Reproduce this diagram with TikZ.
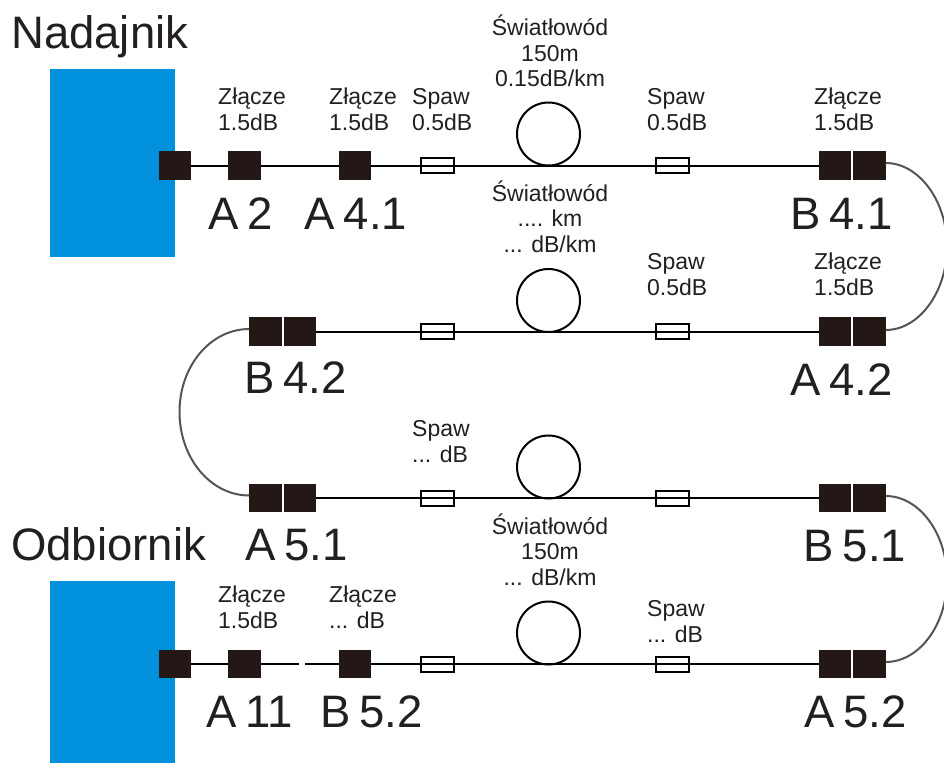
\documentclass[tikz,border=0pt]{standalone}
\usepackage{fontspec}
\setmainfont{Liberation Sans}
\newfontfamily\bigfam[WordSpace=0.68]{Liberation Sans}
\definecolor{txt}{HTML}{231F20}
\definecolor{blk}{HTML}{231815}
\definecolor{cbl}{HTML}{555555}
\definecolor{blu}{HTML}{0090DC}
\tikzset{
 x=1pt,y=-1pt,
 conn/.style={draw=none,fill=blk,minimum width=32.5pt,minimum height=28.5pt,inner sep=0pt,outer sep=0pt},
 splice/.style={draw=black,line width=2pt,minimum width=33pt,minimum height=15pt,inner sep=0pt,outer sep=0pt},
 coil/.style={circle,draw=black,line width=2pt,minimum size=63pt,inner sep=0pt,outer sep=0pt,fill=none},
 fibre/.style={draw=black,line width=2pt},
 patch/.style={draw=cbl,line width=2pt},
 small/.style={text=txt,align=left,anchor=base west,inner sep=0pt,font=\fontsize{23}{25.5}\selectfont},
 smallc/.style={text=txt,align=center,anchor=base,inner sep=0pt,font=\fontsize{23}{25.5}\selectfont},
 big/.style={text=txt,inner sep=0pt,anchor=base,font=\bigfam\fontsize{45.5}{50}\selectfont},
 title/.style={text=txt,inner sep=0pt,anchor=base west,font=\fontsize{45.5}{50}\selectfont},
 device/.style={fill=blu,draw=none,inner sep=0pt,outer sep=0pt,minimum width=125pt},
}
\begin{document}
\begin{tikzpicture}
\useasboundingbox (0,0) rectangle (944,763);
% devices
\node[device,minimum height=188pt] (tx) at (112.5,163) {};
\node[device,minimum height=182pt] (rx) at (112.5,672) {};
% row 1
\node[conn] (a) at (175,165.5) {};
\node[conn] (b) at (244.5,165.5) {};
\node[conn] (c) at (355,165.5) {};
\node[splice] (s1) at (437.5,165.5) {};
\node[coordinate] (k1) at (548.5,165.5) {};
\node[splice] (s2) at (672,165.5) {};
\node[conn] (d1) at (835,165.5) {};
\node[conn] (d2) at (869.5,165.5) {};
\draw[fibre] (a) -- (b);
\draw[fibre] (b) -- (c);
\draw[fibre] (c) -- (s1.center);
\draw[fibre] (s1.center) -- (k1);
\draw[fibre] (k1) -- (s2.center);
\draw[fibre] (s2.center) -- (d1);
\node[coil] (c1) at (548.5,134) {};
% row 2
\node[conn] (e1) at (265.5,331.5) {};
\node[conn] (e2) at (299.8,331.5) {};
\node[splice] (s3) at (437.5,331.5) {};
\node[coordinate] (k2) at (548.5,331.5) {};
\node[splice] (s4) at (672,331.5) {};
\node[conn] (f1) at (835,331.5) {};
\node[conn] (f2) at (869.5,331.5) {};
\draw[fibre] (e2) -- (s3.center);
\draw[fibre] (s3.center) -- (k2);
\draw[fibre] (k2) -- (s4.center);
\draw[fibre] (s4.center) -- (f1);
\node[coil] (c2) at (548.5,300.5) {};
% row 3
\node[conn] (g1) at (265.5,498) {};
\node[conn] (g2) at (299.8,498) {};
\node[splice] (s5) at (437.5,498) {};
\node[coordinate] (k3) at (548.5,498) {};
\node[splice] (s6) at (672,498) {};
\node[conn] (h1) at (835,498) {};
\node[conn] (h2) at (869.5,498) {};
\draw[fibre] (g2) -- (s5.center);
\draw[fibre] (s5.center) -- (k3);
\draw[fibre] (k3) -- (s6.center);
\draw[fibre] (s6.center) -- (h1);
\node[coil] (c3) at (548.5,467) {};
% row 4
\node[conn] (m) at (175,664) {};
\node[conn] (n) at (244.5,664) {};
\coordinate (gapa) at (299,664);
\coordinate (gapb) at (305,664);
\node[conn] (o) at (355,664) {};
\node[splice] (s7) at (437.5,664) {};
\node[coordinate] (k4) at (548.5,664) {};
\node[splice] (s8) at (672,664) {};
\node[conn] (p1) at (835,664) {};
\node[conn] (p2) at (869.5,664) {};
\draw[fibre] (m) -- (n);
\draw[fibre] (n) -- (gapa);
\draw[fibre] (gapb) -- (o);
\draw[fibre] (o) -- (s7.center);
\draw[fibre] (s7.center) -- (k4);
\draw[fibre] (k4) -- (s8.center);
\draw[fibre] (s8.center) -- (p1);
\node[coil] (c4) at (548.5,633) {};
% patch cords
\coordinate (p1a) at ([yshift=2.5pt]d2.east);
\coordinate (p1b) at ([yshift=1.5pt]f2.east);
\coordinate (p2a) at ([yshift=2.5pt]e1.west);
\coordinate (p2b) at ([yshift=2.5pt]g1.west);
\coordinate (p3a) at ([yshift=2pt]h2.east);
\coordinate (p3b) at ([yshift=2pt]p2.east);
\draw[patch] (p1a) .. controls (919,163) and (947,201) .. (947,246.5) .. controls (947,292) and (919,330) .. (p1b);
\draw[patch] (p2a) .. controls (210.5,329) and (179.5,366) .. (179.5,412) .. controls (179.5,458) and (210.5,495.5) .. (p2b);
\draw[patch] (p3a) .. controls (919,496) and (947,533) .. (947,579) .. controls (947,625) and (919,662) .. (p3b);
% titles
\node[title] (t1) at (11,48) {Nadajnik};
\node[title] (t2) at (11,560.7) {Odbiornik};
% big labels
\node[big] (l1) at (241,229.3) {A 2};
\node[big] (l2) at (356,229.3) {A 4.1};
\node[big] (l3) at (841.5,229.3) {B 4.1};
\node[big] (l4) at (295.5,393.3) {B 4.2};
\node[big] (l5) at (841.5,395) {A 4.2};
\node[big] (l6) at (296.5,560.7) {A 5.1};
\node[big] (l7) at (855,561.5) {B 5.1};
\node[big] (l8) at (249.5,727.3) {A 11};
\node[big] (l9) at (371.5,727.3) {B 5.2};
\node[big] (l10) at (855.5,727.3) {A 5.2};
% small labels
\node[small] (z1) at (218,130) {Złącze\\1.5dB};
\node[small] (z2) at (329,130) {Złącze\\1.5dB};
\node[small] (z3) at (412,130) {Spaw\\0.5dB};
\node[smallc] (z4) at (550,86.7) {Światłowód\\150m\\0.15dB/km};
\node[small] (z5) at (647,130) {Spaw\\0.5dB};
\node[small] (z6) at (814,130) {Złącze\\1.5dB};
\node[smallc] (z7) at (550,252) {Światłowód\\.... km\\... dB/km};
\node[small] (z8) at (647,295) {Spaw\\0.5dB};
\node[small] (z9) at (814,295) {Złącze\\1.5dB};
\node[small] (z10) at (412,462) {Spaw\\... dB};
\node[smallc] (z11) at (550,585) {Światłowód\\150m\\... dB/km};
\node[small] (z12) at (218,628.3) {Złącze\\1.5dB};
\node[small] (z13) at (329,628.3) {Złącze\\... dB};
\node[small] (z14) at (647,642) {Spaw\\... dB};
\end{tikzpicture}
\end{document}
